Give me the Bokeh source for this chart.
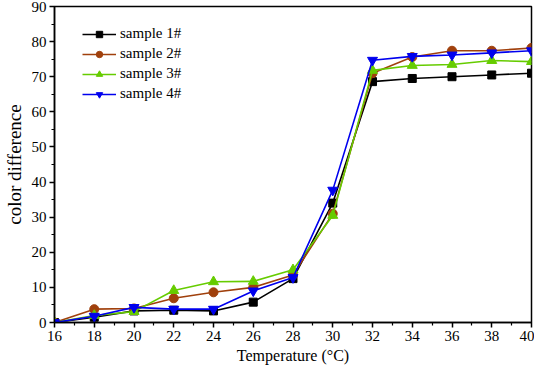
from bokeh.plotting import figure
from bokeh.embed import file_html
from bokeh.resources import INLINE
from bokeh.models import Range1d, FixedTicker

temps = [16, 18, 20, 22, 24, 26, 28, 30, 32, 34, 36, 38, 40]
sample1 = [0, 1.5, 3.3, 3.5, 3.3, 5.8, 12.5, 34.0, 68.6, 69.5, 70.0, 70.5, 71.0]
sample2 = [0, 3.8, 4.0, 6.9, 8.6, 10.0, 13.5, 31.0, 71.0, 75.6, 77.4, 77.4, 78.2]
sample3 = [0, 2.0, 3.1, 9.1, 11.6, 11.7, 15.0, 30.5, 71.8, 73.2, 73.5, 74.6, 74.3]
sample4 = [0, 1.8, 4.3, 3.8, 3.8, 9.0, 12.8, 37.7, 74.7, 75.8, 76.2, 76.8, 77.4]
labels = ["sample 1#", "sample 2#", "sample 3#", "sample 4#"]
x_ticks = list(range(16, 41, 2))
y_ticks = list(range(0, 91, 10))

FONT = "Liberation Serif"

p = figure(width=534, height=366, output_backend="svg", toolbar_location=None,
           x_range=Range1d(16, 40), y_range=Range1d(0, 90),
           min_border_left=44, min_border_right=3, min_border_top=6, min_border_bottom=44)
p.grid.visible = False
p.background_fill_color = "white"
p.border_fill_color = "white"
p.outline_line_color = "black"
p.outline_line_width = 1.5

for ax in (p.xaxis[0], p.yaxis[0]):
    ax.axis_line_width = 1.5
    ax.major_tick_line_width = 1.5
    ax.minor_tick_line_width = 1.2
    ax.major_tick_out = 5
    ax.major_tick_in = 0
    ax.minor_tick_out = 3
    ax.minor_tick_in = 0
    ax.major_label_text_font = FONT
    ax.major_label_text_font_size = "15px"
    ax.major_label_text_color = "black"
    ax.axis_label_text_font = FONT
    ax.axis_label_text_font_style = "normal"
    ax.axis_label_text_color = "black"

p.xaxis.axis_label_text_font_size = "16px"
p.yaxis.axis_label_text_font_size = "19px"
p.xaxis.ticker = FixedTicker(ticks=x_ticks, minor_ticks=list(range(17, 40, 2)))
p.yaxis.ticker = FixedTicker(ticks=y_ticks, minor_ticks=list(range(5, 90, 10)))
p.xaxis.axis_label = "Temperature (°C)"
p.yaxis.axis_label = "color difference"
p.xaxis.major_label_standoff = 3
p.xaxis.axis_label_standoff = 3
p.yaxis.major_label_standoff = 3
p.yaxis.axis_label_standoff = 4

series = [sample1, sample2, sample3, sample4]
colors = ["#000000", "#a0400c", "#66cc00", "#0000ee"]
markers = ["square", "circle", "triangle", "inverted_triangle"]
sizes = [8, 9, 10, 10]

for ys, c, m, s, lab in zip(series, colors, markers, sizes, labels):
    p.line(temps, ys, line_color=c, line_width=1.6, legend_label=lab)
    p.scatter(temps, ys, marker=m, size=s, fill_color=c, line_color=c, legend_label=lab)

lg = p.legend[0]
lg.location = (28, 220)
lg.border_line_color = None
lg.background_fill_alpha = 0
lg.label_text_font = FONT
lg.label_text_font_size = "15px"
lg.label_text_color = "black"
lg.glyph_width = 34
lg.glyph_height = 16
lg.label_height = 16
lg.spacing = 3
lg.padding = 2
lg.margin = 0
lg.label_standoff = 4

open("out.html", "w").write(file_html(p, INLINE))
